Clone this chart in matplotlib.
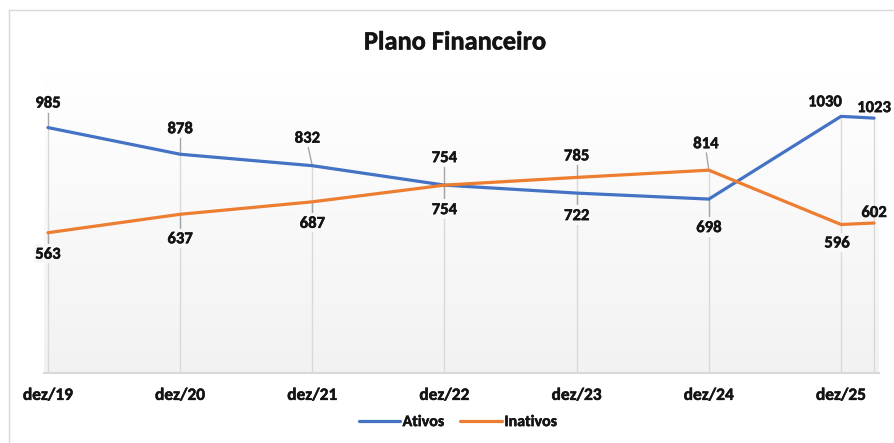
import numpy as np
import matplotlib
matplotlib.use('Agg')
import matplotlib.pyplot as plt
import matplotlib.patheffects as pe
from matplotlib.lines import Line2D

plt.rcParams['font.family'] = ['Carlito', 'DejaVu Sans']

# data
dates = ['2019-12', '2020-12', '2021-12', '2022-12', '2023-12', '2024-12', '2025-12', '2026-03']
ativos = [985, 878, 832, 754, 722, 698, 1030, 1023]
inativos = [563, 637, 687, 754, 785, 814, 596, 602]
tick_labels = ['dez/19', 'dez/20', 'dez/21', 'dez/22', 'dez/23', 'dez/24', 'dez/25']

blue = '#4472C4'
orange = '#ED7D31'
grid_c = '#d9d9d9'
lead_c = '#a6a6a6'
txt_c = '#141414'
heavy = [pe.withStroke(linewidth=0.35, foreground=txt_c)]

# label offsets in pixels (dx, dy), style only
off_at = [(0, 25), (0, 26), (-5, 28), (0, 28), (0, -22), (0, -28), (-16, 15), (0, 11)]
off_in = [(0, -21), (0, -24), (0, -21), (0, -24), (0, 22), (-3, 27), (-4, -18), (0, 11)]

def month_index(d):
    y, m = d.split('-')
    return int(y) * 12 + int(m)

x = [month_index(d) - month_index(dates[0]) for d in dates]

W, H, DPI = 895, 443, 100
fig = plt.figure(figsize=(W / DPI, H / DPI), dpi=DPI)
y0, y1 = 373, 74
ax = fig.add_axes([44 / W, (H - y0) / H, (879 - 44) / W, (y0 - y1) / H])
ax.set_xlim(-0.36, 75.45)
ax.set_ylim(0, 1200)

# gradient background of the plot area
grad = np.linspace(1.0, 0.949, 256).reshape(-1, 1)
ax.imshow(np.dstack([grad, grad, grad]), extent=[0, 1, 0, 1], transform=ax.transAxes,
          aspect='auto', zorder=0, interpolation='bicubic')

for s in ['top', 'right', 'left']:
    ax.spines[s].set_visible(False)
ax.spines['bottom'].set_color(grid_c)
ax.spines['bottom'].set_linewidth(1.5)
ax.set_yticks([])
ax.set_xticks(x[:7])
ax.set_xticklabels(tick_labels, fontsize=12.5, fontweight='bold', color=txt_c)
for t in ax.get_xticklabels():
    t.set_path_effects(heavy)
ax.tick_params(axis='x', length=0, pad=10)

# drop lines
for xi, a, b in zip(x, ativos, inativos):
    ax.plot([xi, xi], [0, max(a, b)], color=grid_c, lw=1, zorder=1)

ax.plot(x, ativos, color=blue, lw=2.3, label='Ativos', zorder=3, solid_capstyle='round')
ax.plot(x, inativos, color=orange, lw=2.3, label='Inativos', zorder=3, solid_capstyle='round')

def bg_color(py):
    f = (py - y1) / (y0 - y1)
    v = 1.0 - 0.051 * min(max(f, 0), 1)
    return (v, v, v)

def put_label(xi, val, dx, dy, boxed):
    px, py = ax.transData.transform((xi, val))
    py_img = H - py
    if abs(dy) > 18:
        sgn = 1 if dy > 0 else -1
        end = dy - sgn * 10
        p1 = ax.transData.inverted().transform((px, py))
        p2 = ax.transData.inverted().transform((px + dx * 0.8, py + end))
        ax.plot([p1[0], p2[0]], [p1[1], p2[1]], color=lead_c, lw=1, zorder=2)
    bbox = None
    if boxed:
        bbox = dict(boxstyle='square,pad=0.1', fc=bg_color(py_img - dy), ec='none')
    ax.annotate(str(val), (xi, val), xytext=(dx, dy), textcoords='offset pixels',
                ha='center', va='center', fontsize=12, fontweight='bold', color=txt_c,
                zorder=4, bbox=bbox, annotation_clip=False, path_effects=heavy)

fig.canvas.draw()
for i, xi in enumerate(x):
    a_low = ativos[i] < inativos[i]
    put_label(xi, ativos[i], *off_at[i], boxed=a_low and i < 7)
    put_label(xi, inativos[i], *off_in[i], boxed=(not a_low) and i < 7)

fig.text(455 / W, 1 - 42 / H, 'Plano Financeiro', ha='center', va='center',
         fontsize=19, fontweight='bold', color=txt_c, path_effects=heavy)

leg = fig.legend(loc='center', bbox_to_anchor=(458 / W, 1 - 422 / H), ncol=2, frameon=False,
                 handlelength=2.6, handletextpad=0.15, columnspacing=1.0,
                 prop={'weight': 'bold', 'size': 11.5})
for t in leg.get_texts():
    t.set_color(txt_c)
    t.set_path_effects(heavy)

# chart area border (left and top visible in the reference)
fig.add_artist(Line2D([9 / W, 9 / W], [0, 1 - 10 / H], color=grid_c, lw=1, transform=fig.transFigure))
fig.add_artist(Line2D([9 / W, 1], [1 - 10 / H, 1 - 10 / H], color=grid_c, lw=1, transform=fig.transFigure))

fig.savefig('out.png', dpi=DPI)
